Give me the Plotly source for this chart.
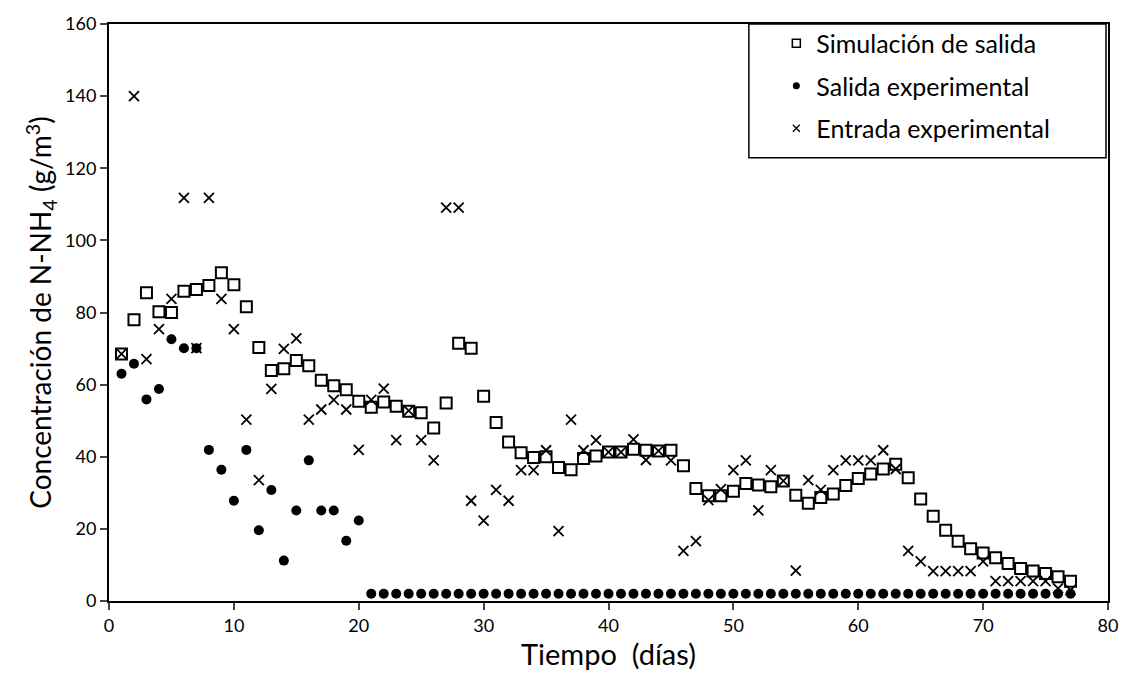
import plotly.graph_objects as go

days = list(range(1, 78))

sim_salida = [68.5, 78.0, 85.5, 80.2, 80.0, 85.9, 86.4, 87.5, 91.0, 87.7,
              81.6, 70.3, 63.9, 64.4, 66.7, 65.2, 61.2, 59.7, 58.6, 55.4,
              53.7, 55.2, 54.0, 52.6, 52.2, 48.0, 54.9, 71.5, 70.1, 56.8,
              49.5, 44.1, 41.1, 39.8, 40.0, 37.0, 36.4, 39.5, 40.2, 41.3,
              41.3, 42.1, 41.8, 41.6, 41.8, 37.5, 31.2, 29.2, 29.2, 30.4,
              32.6, 32.2, 31.7, 33.3, 29.3, 27.1, 28.7, 29.7, 32.0, 34.0,
              35.2, 36.6, 37.9, 34.2, 28.3, 23.5, 19.6, 16.6, 14.5, 13.3,
              12.0, 10.4, 9.0, 8.3, 7.6, 6.7, 5.5]

salida_exp = [63.0, 65.8, 55.9, 58.8, 72.6, 70.1, 70.1, 41.9, 36.4, 27.8,
              41.9, 19.6, 30.8, 11.2, 25.1, 39.0, 25.1, 25.1, 16.7, 22.3,
              2.0, 2.0, 2.0, 2.0, 2.0, 2.0, 2.0, 2.0, 2.0, 2.0,
              2.0, 2.0, 2.0, 2.0, 2.0, 2.0, 2.0, 2.0, 2.0, 2.0,
              2.0, 2.0, 2.0, 2.0, 2.0, 2.0, 2.0, 2.0, 2.0, 2.0,
              2.0, 2.0, 2.0, 2.0, 2.0, 2.0, 2.0, 2.0, 2.0, 2.0,
              2.0, 2.0, 2.0, 2.0, 2.0, 2.0, 2.0, 2.0, 2.0, 2.0,
              2.0, 2.0, 2.0, 2.0, 2.0, 2.0, 2.0]

entrada_exp = [68.5, 140.0, 67.1, 75.4, 83.8, 111.8, 70.1, 111.8, 83.8, 75.4,
               50.3, 33.5, 58.8, 69.9, 72.8, 50.3, 53.1, 55.8, 53.1, 41.9,
               55.8, 58.9, 44.6, 52.8, 44.6, 39.0, 109.1, 109.1, 27.8, 22.3,
               30.8, 27.8, 36.3, 36.3, 41.8, 19.4, 50.3, 41.8, 44.6, 41.3,
               41.3, 44.8, 39.1, 41.6, 39.0, 13.9, 16.6, 28.0, 31.0, 36.3,
               39.0, 25.1, 36.3, 33.3, 8.4, 33.5, 30.8, 36.3, 39.0, 39.0,
               39.0, 41.8, 36.6, 13.9, 11.0, 8.3, 8.3, 8.3, 8.3, 11.0,
               5.5, 5.5, 5.5, 5.5, 5.5, 3.5, 3.0]

names = ["Simulación de salida", "Salida experimental", "Entrada experimental"]
x_ticks = [0, 10, 20, 30, 40, 50, 60, 70, 80]
y_ticks = [0, 20, 40, 60, 80, 100, 120, 140, 160]

FONT = "Lato"
fig = go.Figure()

# plotted data (legend entries drawn by separate small-marker traces)
fig.add_trace(go.Scatter(x=days, y=sim_salida, mode="markers", showlegend=False,
                         marker=dict(symbol="square-open", size=11, color="black",
                                     line=dict(width=2, color="black"))))
fig.add_trace(go.Scatter(x=days, y=salida_exp, mode="markers", showlegend=False,
                         marker=dict(symbol="circle", size=10, color="black")))
fig.add_trace(go.Scatter(x=days, y=entrada_exp, mode="markers", showlegend=False,
                         marker=dict(symbol="x-thin", size=10, color="black",
                                     line=dict(width=1.8, color="black"))))

# legend entries
fig.add_trace(go.Scatter(x=[None], y=[None], mode="markers", name=names[0], legendgroup="a",
                         marker=dict(symbol="square-open", size=8, color="black",
                                     line=dict(width=1.5, color="black"))))
fig.add_trace(go.Scatter(x=[None], y=[None], mode="markers", name=names[1], legendgroup="b",
                         marker=dict(symbol="circle", size=7, color="black")))
fig.add_trace(go.Scatter(x=[None], y=[None], mode="markers", name=names[2], legendgroup="c",
                         marker=dict(symbol="x-thin", size=7, color="black",
                                     line=dict(width=1.3, color="black"))))

fig.update_layout(
    width=1130, height=686,
    margin=dict(l=109, r=18, t=20, b=85),
    paper_bgcolor="white", plot_bgcolor="white",
    font=dict(family=FONT, color="black", size=18),
    showlegend=True,
    legend=dict(x=0.668, y=1.006, xanchor="left", yanchor="top",
                bgcolor="rgba(0,0,0,0)", borderwidth=0,
                font=dict(family=FONT, size=25, color="black"),
                tracegroupgap=7, itemsizing="trace"),
    xaxis=dict(range=[0, 80], tickvals=x_ticks, ticks="outside", ticklen=7, tickwidth=1.5,
               showline=True, linecolor="black", linewidth=2, mirror=True,
               showgrid=False, zeroline=False,
               tickfont=dict(family=FONT, size=18, color="black"),
               title=dict(text="Tiempo  (días)", font=dict(family=FONT, size=29, color="black"),
                          standoff=6)),
    yaxis=dict(range=[0, 160], tickvals=y_ticks, ticks="outside", ticklen=7, tickwidth=1.5,
               showline=True, linecolor="black", linewidth=2, mirror=True,
               showgrid=False, zeroline=False,
               tickfont=dict(family=FONT, size=18, color="black"),
               title=dict(text="Concentración de N-NH<sub>4</sub> (g/m<sup>3</sup>)",
                          font=dict(family=FONT, size=28, color="black"), standoff=5)),
    shapes=[dict(type="rect", xref="paper", yref="paper", x0=0.6405, x1=0.998, y0=0.768, y1=1.0,
                 line=dict(color="black", width=1.5), fillcolor="rgba(0,0,0,0)")],
)

fig.write_html("out.html")
